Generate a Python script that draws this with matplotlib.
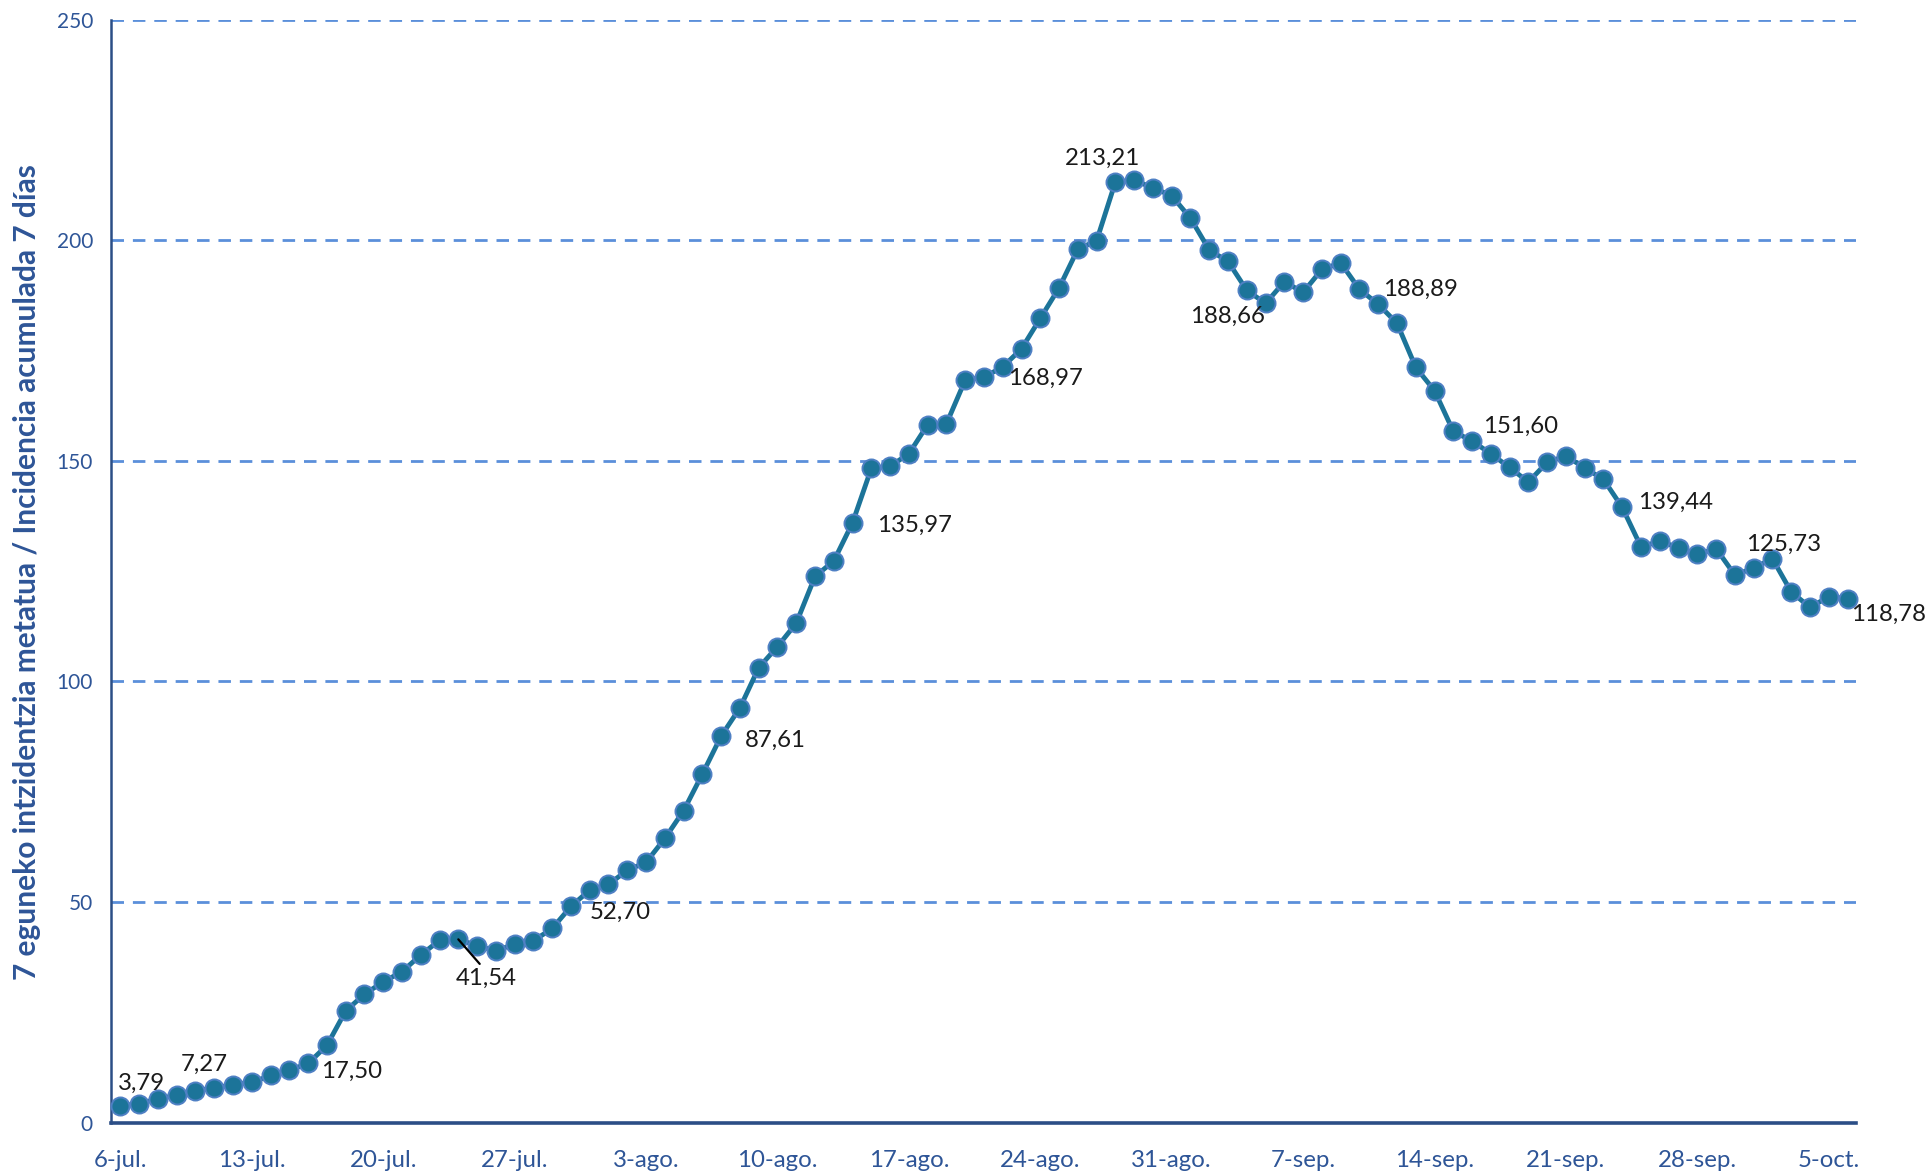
import matplotlib
matplotlib.use("Agg")
import matplotlib.pyplot as plt
from matplotlib.ticker import FixedLocator

plt.rcParams['font.family'] = ['Lato', 'DejaVu Sans']

# ---- data ----
incidence = [
    3.79, 4.3, 5.4, 6.2, 7.27, 7.8, 8.6, 9.1, 10.7, 11.9,
    13.4, 17.50, 25.3, 29.1, 31.9, 34.2, 38.0, 41.3, 41.54, 40.1,
    38.9, 40.5, 41.2, 44.0, 49.0, 52.70, 54.0, 57.2, 59.0, 64.4,
    70.7, 79.0, 87.61, 94.0, 103.1, 107.9, 113.2, 123.8, 127.3, 135.97,
    148.3, 148.8, 151.6, 158.2, 158.4, 168.3, 168.97, 171.3, 175.4, 182.3,
    189.2, 198.0, 199.9, 213.21, 213.6, 211.9, 210.1, 205.0, 197.8, 195.2,
    188.66, 185.7, 190.6, 188.2, 193.4, 194.9, 188.89, 185.5, 181.2, 171.2,
    165.9, 156.7, 154.5, 151.60, 148.5, 145.2, 149.7, 151.1, 148.4, 145.8,
    139.44, 130.5, 131.8, 130.3, 128.8, 130.1, 124.1, 125.73, 127.8, 120.3,
    116.8, 119.2, 118.78,
]
tick_days = [0, 7, 14, 21, 28, 35, 42, 49, 56, 63, 70, 77, 84, 91]
tick_labels = ["6-jul.", "13-jul.", "20-jul.", "27-jul.", "3-ago.", "10-ago.",
               "17-ago.", "24-ago.", "31-ago.", "7-sep.", "14-sep.", "21-sep.",
               "28-sep.", "5-oct."]
labeled_days = [0, 4, 11, 18, 25, 32, 39, 46, 53, 60, 66, 73, 80, 87, 92]
y_ticks = [0, 50, 100, 150, 200, 250]
ylabel = "7 eguneko intzidentzia metatua / Incidencia acumulada 7 días"

# ---- layout / style ----
W, H, DPI = 1930, 1174, 100
fig = plt.figure(figsize=(W / DPI, H / DPI), dpi=DPI)
ax = fig.add_axes([111 / W, 1 - 1122.6 / H, (1856 - 111) / W, (1122.6 - 19.7) / H])

days = list(range(len(incidence)))
line_col = "#1C7499"
edge_col = "#4F80C4"
axis_col = "#2B4E86"
grid_col = "#5B8FDA"
text_blue = "#2E5597"

ax.plot(days, incidence, color=line_col, lw=3.5, marker='o', markersize=13,
        markerfacecolor=line_col, markeredgecolor=edge_col, markeredgewidth=1.4,
        zorder=3, clip_on=False)

ax.set_xlim(-0.5, 92.45)
ax.set_ylim(0, 250)
ax.yaxis.set_major_locator(FixedLocator(y_ticks))
ax.set_xticks(tick_days)
ax.set_xticklabels(tick_labels)

for yv in y_ticks[1:]:
    ax.axhline(yv, color=grid_col, lw=2.0, ls=(0, (4.5, 3.2)), zorder=1)

for s in ['top', 'right']:
    ax.spines[s].set_visible(False)
ax.spines['left'].set_color(axis_col)
ax.spines['left'].set_linewidth(1.8)
ax.spines['bottom'].set_color(axis_col)
ax.spines['bottom'].set_linewidth(2.6)

ax.tick_params(axis='both', length=0)
ax.tick_params(axis='x', pad=20, labelsize=17.3, labelcolor=text_blue)
ax.tick_params(axis='y', pad=13, labelsize=15, labelcolor=text_blue)

fig.text(27 / W, 1 - 572 / H, ylabel, rotation=90, ha='center', va='center',
         fontsize=21.5, fontweight='bold', color=text_blue)

offsets = {0: (15, 16), 4: (6.5, 19), 11: (18, -19), 18: (20, -28),
           25: (21.6, -16), 32: (39, -3), 39: (44.6, -2), 46: (44, -1),
           53: (-9, 17), 60: (-14, -19), 66: (44, 0), 73: (21.6, 20),
           80: (38, 3.6), 87: (21.6, 17), 92: (29.5, -11)}

for d in labeled_days:
    txt = f"{incidence[d]:.2f}".replace('.', ',')
    kw = {}
    if d == 18:
        kw['arrowprops'] = dict(arrowstyle='-', color='black', lw=1.6,
                                relpos=(0.45, 1.0), shrinkA=1, shrinkB=0)
    ax.annotate(txt, xy=(d, incidence[d]), xytext=offsets[d],
                textcoords='offset points', ha='center', va='center',
                fontsize=17.3, color='#1a1a1a', zorder=5, **kw)

fig.savefig("out.png", dpi=DPI)
